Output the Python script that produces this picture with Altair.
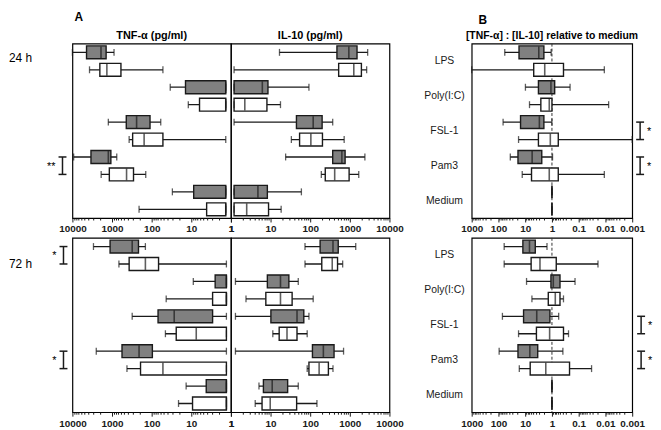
import altair as alt
import pandas as pd

FONT = "Liberation Sans"
INK = "#1a1a1a"
SHADE = "#808080"

stimuli = ["LPS", "Poly(I:C)", "FSL-1", "Pam3", "Medium"]
groups = ["s", "o"]  # s = shaded box, o = open box
row_keys = [f"{s}|{g}" for s in stimuli for g in groups]

# ---- 24 h, TNF-alpha (pg/ml): whisker low, box low, median, box high, whisker high
tnf24_wlo = [890, 52, 1.35, 1.35, 59, 1.35, 760, 141, 1.35, 1.35]
tnf24_qlo = [1410, 596, 1.35, 1.35, 110, 52, 1070, 287, 1.35, 1.35]
tnf24_med = [1900, 1350, 1.35, 1.35, 240, 155, 1240, 430, 1.35, 1.35]
tnf24_qhi = [4400, 2030, 14, 6.2, 437, 302, 3400, 1170, 8.7, 4.1]
tnf24_whi = [10000, 3700, 34, 11.9, 1240, 370, 9300, 1880, 30, 208]

# ---- 24 h, IL-10 (pg/ml)
il24_wlo = [16.8, 1.2, 1.2, 1.2, 1.2, 33.5, 24, 191, 1.2, 1.2]
il24_qlo = [473, 523, 1.2, 1.2, 45, 54, 370, 240, 1.2, 1.2]
il24_med = [945, 1260, 6.2, 2.24, 119, 104, 630, 415, 4.8, 2.5]
il24_qhi = [1520, 1960, 8.6, 8.1, 200, 204, 760, 960, 8.3, 8.9]
il24_whi = [2820, 2660, 93, 17.8, 370, 720, 2400, 1680, 60, 18.5]

# ---- 24 h, ratio relative to medium
r24_wlo = [1.07, 0.011, 0.21, 0.0076, 1.0, 0.001, 0.95, 0.011, 1, 1]
r24_qlo = [2.0, 0.37, 0.79, 1.0, 2.0, 0.58, 2.4, 0.58, 1, 1]
r24_med = [3.1, 1.86, 1.09, 1.26, 2.95, 1.15, 5.5, 1.26, 1, 1]
r24_qhi = [17, 4.8, 3.2, 2.6, 14.9, 3.2, 18.6, 5.8, 1, 1]
r24_whi = [58, 1000, 9.8, 6.9, 67, 17.7, 36, 12.9, 1, 1]

# ---- 72 h, TNF-alpha
tnf72_wlo = [144, 1.3, 1.3, 1.3, 1.3, 1.3, 1.3, 1.3, 1.3, 1.3]
tnf72_qlo = [215, 67, 1.3, 1.3, 2.9, 1.3, 96, 1.3, 1.3, 1.3]
tnf72_med = [310, 144, 1.3, 1.3, 27, 7.5, 208, 52, 1.3, 1.3]
tnf72_qhi = [1120, 370, 2.5, 2.9, 69, 24, 560, 191, 4.2, 9.3]
tnf72_whi = [2940, 670, 8.9, 43, 310, 45, 2500, 420, 13.5, 21]

# ---- 72 h, IL-10
il72_wlo = [74, 74, 1.3, 2.4, 1.3, 11.4, 1.3, 84, 5.1, 4.1]
il72_qlo = [178, 196, 8.3, 7.6, 10.2, 16.5, 114, 93, 6.6, 6.1]
il72_med = [376, 360, 17.8, 17.8, 46.5, 26, 215, 168, 11, 9.8]
il72_qhi = [510, 490, 29, 35, 69, 46.5, 400, 288, 27, 45.5]
il72_whi = [1410, 660, 50, 119, 93, 84, 695, 376, 50, 148]

# ---- 72 h, ratio relative to medium
r72_wlo = [1.53, 0.019, 0.137, 0.37, 0.56, 0.24, 0.39, 0.033, 1, 1]
r72_qlo = [4.2, 0.69, 0.5, 0.5, 1.19, 0.37, 3.4, 0.22, 1, 1]
r72_med = [6.9, 2.8, 0.89, 0.75, 3.7, 1.22, 6.7, 1.7, 1, 1]
r72_qhi = [12.2, 6.0, 1.09, 1.37, 11.5, 3.8, 18.6, 6.5, 1, 1]
r72_whi = [61, 61, 8.9, 5.6, 71, 17.7, 94, 16.6, 1, 1]

conc_ticks = [float(f"{m}e{k}") for k in range(0, 4) for m in range(1, 10)] + [10000.0]
ratio_ticks = [float(f"{m}e{k}") for k in range(-3, 3) for m in range(1, 10)] + [1000.0]

W_A, W_B, W_GAP, H = 160, 162, 83, 176
STEP = H / 10.0


def yc(i):
    return STEP * 0.13 + i * STEP + STEP * 0.74 / 2


MAJOR = "abs(log(datum.value)/LN10 - round(log(datum.value)/LN10)) < 0.001"


def x_axis(vals):
    return alt.Axis(
        values=vals, format="~g", labelExpr=f"({MAJOR}) ? datum.label : ''",
        tickSize={"condition": {"test": MAJOR, "value": 4}, "value": 2},
        labelFlush=False, labelOverlap=False, grid=False, domain=False,
        tickColor=INK, tickWidth=1, labelColor=INK, labelFont=FONT,
        labelFontSize=10, labelFontWeight="bold", labelPadding=2, title=None,
    )


yscale = alt.Scale(domain=row_keys, paddingInner=0.26, paddingOuter=0.13)
fill_scale = alt.Scale(domain=groups, range=[SHADE, "white"])

conc_rev = alt.Scale(type="log", domain=[1, 10000], reverse=True, nice=False)
conc_fwd = alt.Scale(type="log", domain=[1, 10000], nice=False)
ratio_rev = alt.Scale(type="log", domain=[0.001, 1000], reverse=True, nice=False)

b_yaxis = alt.Axis(
    labelExpr="indexof(datum.value, '|s') >= 0 ? split(datum.value, '|')[0] : ''",
    ticks=False, tickSize=0, domain=False, grid=False, labelAlign="center",
    labelBaseline="middle", labelPadding=28, labelOffset=STEP / 2,
    labelFont=FONT, labelFontSize=10.5, labelColor=INK, labelOverlap=False, title=None,
)


def make_df(wlo, qlo, med, qhi, whi):
    return pd.DataFrame({
        "row": row_keys, "grp": [k.split("|")[1] for k in row_keys],
        "wlo": wlo, "qlo": qlo, "med": med, "qhi": qhi, "whi": whi,
    })


def label(text, x, y, size, weight="normal", align="left", baseline="middle"):
    return alt.Chart(pd.DataFrame({"t": [text]})).mark_text(
        font=FONT, fontSize=size, fontWeight=weight, align=align,
        baseline=baseline, color="black",
    ).encode(x=alt.value(x), y=alt.value(y), text="t:N")


def bracket(i0, i1, x, stars, star_x, star_align):
    y0, y1 = yc(i0), yc(i1)
    d = pd.DataFrame({"k": [0]})
    segs = [(x, x, y0, y1), (x - 4, x + 4, y0, y0), (x - 4, x + 4, y1, y1)]
    out = [
        alt.Chart(d).mark_rule(color=INK, strokeWidth=1.5).encode(
            x=alt.value(a), x2=alt.value(b), y=alt.value(c), y2=alt.value(e))
        for a, b, c, e in segs
    ]
    out.append(label(stars, star_x, (y0 + y1) / 2 + 1, 11, align=star_align))
    return out


def panel(df, xscale, ticks, yaxis, width, pre=(), post=()):
    xa = x_axis(ticks)

    def X(f):
        return alt.X(f"{f}:Q", scale=xscale, axis=xa, title=None)

    Y = alt.Y("row:N", scale=yscale, axis=yaxis, title=None)
    base = alt.Chart(df)
    layers = list(pre) + [
        base.mark_rule(color=INK, strokeWidth=1.3).encode(x=X("wlo"), x2="whi:Q", y=Y),
        base.mark_bar(stroke=INK, strokeWidth=1.4).encode(
            x=X("qlo"), x2="qhi:Q", y=Y,
            color=alt.Color("grp:N", scale=fill_scale, legend=None)),
        base.mark_tick(color=INK, thickness=1.6, size=12).encode(x=X("med"), y=Y),
        base.mark_tick(color=INK, thickness=1.3, size=7).encode(x=X("wlo"), y=Y),
        base.mark_tick(color=INK, thickness=1.3, size=7).encode(x=X("whi"), y=Y),
    ] + list(post)
    return alt.layer(*layers).properties(width=width, height=H)


def unity_line():
    return alt.Chart(pd.DataFrame({"v": [1.0]})).mark_rule(
        color="#333", strokeWidth=1, strokeDash=[3, 2]
    ).encode(x=alt.X("v:Q", scale=ratio_rev, axis=x_axis(ratio_ticks), title=None))


def spacer():
    return alt.Chart(pd.DataFrame({"v": [0]})).mark_point(opacity=0).encode(
        x=alt.X("v:Q", axis=None), y=alt.Y("v:Q", axis=None)
    ).properties(width=W_GAP, height=H, view=alt.ViewBackground(stroke="transparent"))


tnf24 = panel(make_df(tnf24_wlo, tnf24_qlo, tnf24_med, tnf24_qhi, tnf24_whi),
              conc_rev, conc_ticks, None, W_A,
              post=[label("A", 2, -27, 12, "bold"),
                    label("TNF-α (pg/ml)", W_A / 2, -8, 11, "bold", align="center"),
                    label("24 h", -64, 15, 12)]
              + bracket(6, 7, -10, "**", -17, "right"))
il24 = panel(make_df(il24_wlo, il24_qlo, il24_med, il24_qhi, il24_whi),
             conc_fwd, conc_ticks, None, W_A,
             post=[label("IL-10 (pg/ml)", W_A / 2, -8, 11, "bold", align="center")])
b24 = panel(make_df(r24_wlo, r24_qlo, r24_med, r24_qhi, r24_whi),
            ratio_rev, ratio_ticks, b_yaxis, W_B, pre=[unity_line()],
            post=[label("B", 7, -24, 12, "bold"),
                  label("[TNF-α] : [IL-10] relative to medium", W_B / 2, -8, 10.5, "bold", align="center")]
            + bracket(4, 5, 170, "*", 177, "left") + bracket(6, 7, 170, "*", 177, "left"))

tnf72 = panel(make_df(tnf72_wlo, tnf72_qlo, tnf72_med, tnf72_qhi, tnf72_whi),
              conc_rev, conc_ticks, None, W_A,
              post=[label("72 h", -64, 26, 12)]
              + bracket(0, 1, -9, "*", -16, "right") + bracket(6, 7, -9, "*", -16, "right"))
il72 = panel(make_df(il72_wlo, il72_qlo, il72_med, il72_qhi, il72_whi),
             conc_fwd, conc_ticks, None, W_A)
b72 = panel(make_df(r72_wlo, r72_qlo, r72_med, r72_qhi, r72_whi),
            ratio_rev, ratio_ticks, b_yaxis, W_B, pre=[unity_line()],
            post=bracket(4, 5, 171, "*", 178, "left") + bracket(6, 7, 171, "*", 178, "left"))

chart = alt.concat(
    tnf24, il24, spacer(), b24, tnf72, il72, spacer(), b72,
    columns=4, spacing={"row": 20, "column": 0}, bounds="flush",
).configure_view(stroke="black", strokeWidth=1.2).properties(padding=0)

chart.save("out.html", embed_options={"renderer": "svg", "actions": False})
